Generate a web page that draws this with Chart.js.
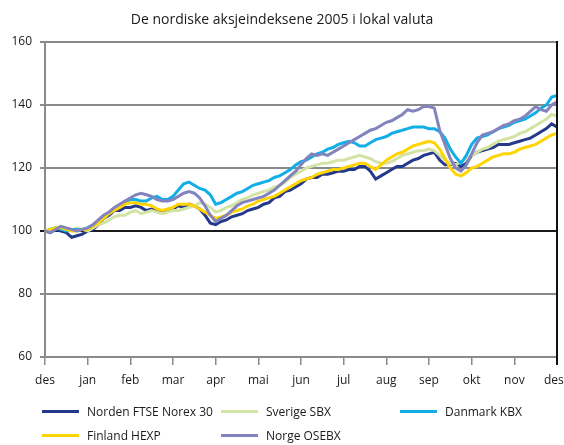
<!DOCTYPE html>
<html>
<head>
<meta charset="utf-8">
<script src="https://cdn.jsdelivr.net/npm/chart.js@4"></script>
<style>
    html, body { margin: 0; padding: 0; background: #fff; }
    #wrap { position: relative; width: 564px; height: 445px; font-family: 'Open Sans', sans-serif; color: #1a1a1a; }
    #title { position: absolute; top: 9px; left: 0; width: 564px; text-align: center; font-size: 14px; }
    canvas { position: absolute; left: 0; top: 0; }
    .lg-item { position: absolute; font-size: 12px; line-height: 16px; white-space: nowrap; }
    .lg-item span.swatch { position: absolute; top: 6px; width: 37px; height: 3px; }
</style>
</head>
<body>
<div id="wrap">
    <canvas id="chart" width="564" height="445"></canvas>
    <div id="title">De nordiske aksjeindeksene 2005 i lokal valuta</div>
    <div id="legend"></div>
</div>
<script>
// ============================================
// DATA (indeks, 1. des 2004 = 100), 8 obs per måned
// ============================================
const monthLabels = ['des', 'jan', 'feb', 'mar', 'apr', 'mai', 'jun', 'jul', 'aug', 'sep', 'okt', 'nov', 'des'];
const stepsPerMonth = 8;

const seriesNames = ['Norden FTSE Norex 30', 'Sverige SBX', 'Danmark KBX', 'Finland HEXP', 'Norge OSEBX'];

const norden = [
    100, 99.5, 100.5, 100, 99.5, 98, 98.5, 99,
    100, 100.5, 102, 104, 105, 106.5, 106.5, 107.5,
    107.5, 108, 107.5, 106.5, 107, 106.5, 106, 106.5,
    107, 108, 107.5, 108.5, 108, 107, 105, 102.5,
    102, 103, 103.5, 104.5, 105, 105.5, 106.5, 107,
    107.5, 108.5, 109, 110.5, 111, 112.5, 113, 114,
    115, 116.5, 117, 117, 118, 118, 118.5, 119,
    119, 119.5, 119.5, 120.5, 120.5, 119, 116.5, 117.5,
    118.5, 119.5, 120.5, 120.5, 121.5, 122.5, 123, 124,
    124.5, 125, 122.5, 121, 121, 121.5, 120.5, 121.5,
    124, 125, 125.5, 126, 126.5, 127.5, 127.5, 127.5,
    128, 128.5, 129, 129.5, 130.5, 131.5, 132.5, 134,
    133
];
const sverige = [
    100, 100.5, 101, 101.5, 100.5, 100, 101, 100.5,
    100, 101, 102, 102.5, 103.5, 104.5, 105, 105,
    106, 106.5, 105.5, 106, 106.5, 106, 105.5, 106,
    106.5, 106.5, 107, 107.5, 108, 109, 108.5, 107.5,
    106, 106.5, 107.5, 108, 109, 110, 110.5, 111.5,
    112, 112.5, 113, 114, 114.5, 115.5, 117, 118,
    119, 120, 120.5, 121, 121.5, 121.5, 122, 122.5,
    122.5, 123, 123.5, 124, 123.5, 123, 122, 121.5,
    121.5, 122, 123, 124, 124.5, 125, 125.5, 125.5,
    126, 125.5, 124, 122.5, 121.5, 121, 122, 123,
    124, 125, 126, 126.5, 127.5, 128.5, 129, 129.5,
    130, 131, 131.5, 132.5, 133.5, 134.5, 135.5, 137,
    136.5
];
const danmark = [
    100, 100.5, 101, 100.5, 100, 100.5, 100.5, 100.5,
    101, 102, 103, 104, 105.5, 107, 108, 109,
    110, 110, 109.5, 109.5, 110.5, 111, 110, 110,
    111, 113, 115, 115.5, 114.5, 113.5, 113, 111.5,
    108.5, 109, 110, 111, 112, 112.5, 113.5, 114.5,
    115, 115.5, 116, 117, 117.5, 118.5, 119.5, 121,
    122, 122.5, 123.5, 124.5, 125, 126, 126.5, 127.5,
    128, 128.5, 128, 127, 127, 128, 129, 129.5,
    130, 131, 131.5, 132, 132.5, 133, 133, 133,
    132.5, 132.5, 131.5, 129.5, 126, 123.5, 121.5, 124,
    127.5, 129.5, 130, 130.5, 131.5, 132.5, 133, 133.5,
    134.5, 135, 135.5, 136.5, 137.5, 139, 140, 142.5,
    143
];
const finland = [
    100, 100.5, 101, 101, 100.5, 100, 100, 100.5,
    100.5, 101.5, 102.5, 104, 105.5, 106.5, 107.5, 108.5,
    109, 109, 108.5, 108.5, 108, 107, 106.5, 107,
    107.5, 108.5, 108.5, 108.5, 108, 107, 106, 105,
    104, 104.5, 105, 106, 106.5, 107, 108, 108.5,
    109.5, 110, 110.5, 111, 112, 113, 114, 115,
    116, 116.5, 117, 118, 118.5, 119, 119.5, 119.5,
    120, 120.5, 121, 121.5, 121.5, 120.5, 119.5, 121,
    122.5, 123.5, 124.5, 125, 126, 127, 127.5, 128,
    128.5, 128, 126, 123, 120, 118, 117.5, 118.5,
    120, 120.5, 121.5, 122.5, 123.5, 124, 124.5, 124.5,
    125, 126, 126.5, 127, 127.5, 128.5, 129.5, 130.5,
    131
];
const norge = [
    100, 99.5, 100.5, 101.5, 101, 100.5, 100, 100.5,
    101, 102, 103.5, 105, 106, 107.5, 108.5, 109.5,
    110.5, 111.5, 112, 111.5, 111, 110, 109.5, 109.5,
    110, 111, 112, 112.5, 112, 110.5, 108, 105,
    103, 104, 105, 106.5, 108, 109, 109.5, 110,
    110.5, 111, 112, 113, 114.5, 116, 117.5, 119,
    121, 123, 124.5, 124, 124.5, 124, 125, 126,
    127, 128, 129, 130, 131, 132, 132.5, 133.5,
    134.5, 135, 136, 137, 138.5, 138, 138.5, 139.5,
    139.5, 139, 132, 127.5, 123, 120, 119, 121,
    124.5, 128, 130.5, 131, 131.5, 132.5, 133.5, 134,
    135, 135.5, 136.5, 138, 139.5, 138.5, 138, 140,
    141
];

const yTicks = [60, 80, 100, 120, 140, 160];

// ============================================
// STYLE
// ============================================
const seriesColors = ['#24398a', '#d3e3a6', '#12aee6', '#ffd400', '#8383be'];
const drawOrder    = [5, 4, 3, 2, 1];   // lavere = tegnes øverst
const FONT = "'Open Sans', sans-serif";

const toPoints = arr => arr.map((v, i) => ({ x: i / stepsPerMonth, y: v }));
const allValues = [norden, sverige, danmark, finland, norge];

// høyre ramme
const rightBorder = {
    id: 'rightBorder',
    afterDraw(chart) {
        const { ctx, chartArea } = chart;
        ctx.save();
        ctx.strokeStyle = '#111';
        ctx.lineWidth = 2;
        ctx.beginPath();
        ctx.moveTo(chartArea.right, chartArea.top - 1);
        ctx.lineTo(chartArea.right, chartArea.bottom + 8);
        ctx.stroke();
        ctx.restore();
    },
};

new Chart(document.getElementById('chart'), {
    type: 'line',
    data: {
        datasets: allValues.map((vals, i) => ({
            label: seriesNames[i],
            data: toPoints(vals),
            borderColor: seriesColors[i],
            borderWidth: 3,
            pointRadius: 0,
            tension: 0,
            fill: false,
            order: drawOrder[i],
        })),
    },
    options: {
        responsive: false,
        animation: false,
        layout: { padding: { top: 42, right: 7, bottom: 0, left: 0 } },
        plugins: {
            legend: { display: false },
            tooltip: { enabled: false },
        },
        scales: {
            x: {
                type: 'linear',
                min: 0,
                max: monthLabels.length - 1,
                afterBuildTicks: s => { s.ticks = monthLabels.map((_, i) => ({ value: i })); },
                afterFit: s => { s.height = 88; s.paddingLeft = 0; s.paddingRight = 0; },
                grid: { drawOnChartArea: false, drawTicks: true, tickLength: 8, color: '#8a8a8a', lineWidth: 1.5 },
                border: { color: '#8a8a8a', width: 2 },
                ticks: {
                    maxRotation: 0,
                    autoSkip: false,
                    padding: 8,
                    color: '#1a1a1a',
                    font: { family: FONT, size: 12 },
                    // siste etikett skyves litt inn så den ikke kuttes i kanten
                    callback: v => (v === monthLabels.length - 1 ? monthLabels[v] + '\u00a0\u00a0' : monthLabels[v]),
                },
            },
            y: {
                min: yTicks[0],
                max: yTicks[yTicks.length - 1],
                afterBuildTicks: s => { s.ticks = yTicks.map(v => ({ value: v })); },
                afterFit: s => { s.width = 45; },
                grid: {
                    color: c => (c.tick && c.tick.value === 100 ? '#1a1a1a' : '#8a8a8a'),
                    lineWidth: 2,
                    tickLength: 5,
                },
                border: { color: '#8a8a8a', width: 2 },
                ticks: {
                    padding: 8,
                    color: '#1a1a1a',
                    font: { family: FONT, size: 12 },
                },
            },
        },
    },
    plugins: [rightBorder],
});

// ============================================
// LEGEND (HTML, 3 kolonner)
// ============================================
const legendCols = [42, 221, 400];
const legendRows = [404, 428];
const legendEl = document.getElementById('legend');
seriesNames.forEach((name, i) => {
    const item = document.createElement('div');
    item.className = 'lg-item';
    item.style.left = legendCols[i % 3] + 'px';
    item.style.top  = legendRows[Math.floor(i / 3)] + 'px';
    item.innerHTML = `<span class="swatch" style="left:0;background:${seriesColors[i]}"></span>
        <span style="position:absolute;left:45px;top:0">${name}</span>`;
    legendEl.appendChild(item);
});
</script>
</body>
</html>
